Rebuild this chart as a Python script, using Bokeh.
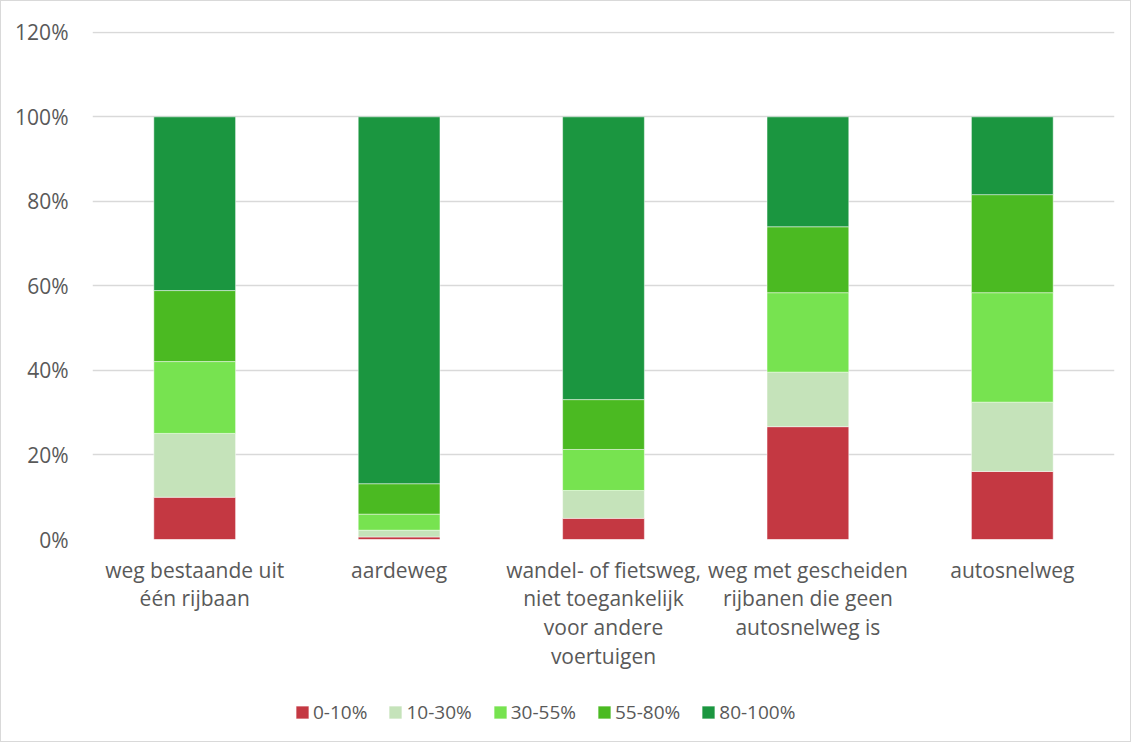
from bokeh.plotting import figure
from bokeh.layouts import column
from bokeh.models import ColumnDataSource, Range1d, NumeralTickFormatter, Legend, LegendItem, FixedTicker
from bokeh.embed import file_html
from bokeh.resources import INLINE

categories = [
    "weg bestaande uit\néén rijbaan",
    "aardeweg",
    "wandel- of fietsweg,\nniet toegankelijk\nvoor andere\nvoertuigen",
    "weg met gescheiden\nrijbanen die geen\nautosnelweg is",
    "autosnelweg",
]
series_names = ["0-10%", "10-30%", "30-55%", "55-80%", "80-100%"]
v_0_10 = [10.0, 0.6, 5.0, 26.7, 16.1]
v_10_30 = [15.1, 1.6, 6.6, 12.9, 16.4]
v_30_55 = [17.0, 3.8, 9.7, 18.8, 25.9]
v_55_80 = [16.8, 7.2, 11.8, 15.6, 23.2]
v_80_100 = [41.1, 86.8, 66.9, 26.0, 18.4]
y_ticks = [0, 0.2, 0.4, 0.6, 0.8, 1.0, 1.2]

colors = ["#C43842", "#C5E3BA", "#77E350", "#4BBA22", "#1B9640"]
FONT = "Open Sans"
TXT = "#595959"

data = {"cat": categories}
for name, vals in zip(series_names, [v_0_10, v_10_30, v_30_55, v_55_80, v_80_100]):
    data[name] = [v / 100.0 for v in vals]
src = ColumnDataSource(data)

# main chart
p = figure(x_range=categories, y_range=Range1d(0, 1.202), width=1129, height=680,
           output_backend="svg", toolbar_location=None,
           min_border_left=91, min_border_right=16, min_border_top=30, min_border_bottom=142)
p.outline_line_color = None

rs = p.vbar_stack(series_names, x="cat", width=0.4, source=src, color=colors,
                  line_color="white", line_width=0.8, line_alpha=0.6)

p.yaxis.ticker = FixedTicker(ticks=y_ticks)
p.yaxis.formatter = NumeralTickFormatter(format="0%")
p.yaxis.axis_line_color = None
p.yaxis.major_tick_line_color = None
p.yaxis.minor_tick_line_color = None
p.yaxis.major_label_standoff = 18
p.yaxis.major_label_text_font = FONT
p.yaxis.major_label_text_font_size = "21px"
p.yaxis.major_label_text_color = TXT

p.xaxis.axis_line_color = None
p.xaxis.major_tick_line_color = None
p.xaxis.major_tick_out = 0
p.xaxis.major_label_standoff = 16
p.xaxis.major_label_text_font = FONT
p.xaxis.major_label_text_font_size = "21px"
p.xaxis.major_label_text_color = TXT
p.xaxis.major_label_text_line_height = 1.03

p.xgrid.grid_line_color = None
p.ygrid.ticker = FixedTicker(ticks=y_ticks)
p.ygrid.grid_line_color = "#D9D9D9"
p.ygrid.grid_line_width = 1.3

# legend strip (same stacked bars, drawn outside its visible y range, used as legend keys)
lg = figure(x_range=p.x_range, y_range=Range1d(2, 3), width=1129, height=60,
            output_backend="svg", toolbar_location=None,
            x_axis_location=None, y_axis_location=None,
            min_border_left=0, min_border_right=0, min_border_top=0, min_border_bottom=0)
lg.outline_line_color = None
lg.grid.grid_line_color = None
rs2 = lg.vbar_stack(series_names, x="cat", width=0.4, source=src, color=colors,
                    line_color="white", line_width=0.8, line_alpha=0.6)

legend = Legend(items=[LegendItem(label=n, renderers=[r]) for n, r in zip(series_names, rs2)],
                orientation="horizontal", location=(202, 16),
                glyph_width=16, glyph_height=16, label_standoff=3, spacing=20,
                label_text_font=FONT, label_text_font_size="19px", label_text_color=TXT,
                border_line_color=None, background_fill_alpha=0, padding=0, margin=0)
lg.add_layout(legend)

layout = column(p, lg, spacing=0, styles={"border": "1px solid #D9D9D9"})

open("out.html", "w").write(file_html(layout, INLINE))
